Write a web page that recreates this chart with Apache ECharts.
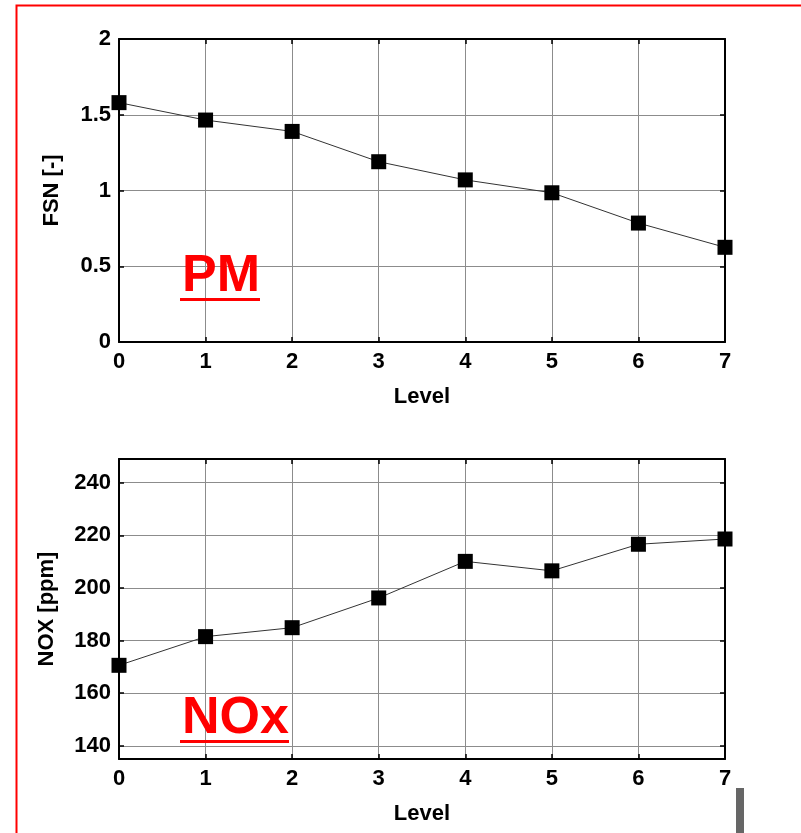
<!DOCTYPE html>
<html>
<head>
<meta charset="utf-8">
<script src="https://cdn.jsdelivr.net/npm/echarts@6/dist/echarts.min.js"></script>
<style>
  html, body { margin: 0; padding: 0; background: #fff; }
  #chart { width: 801px; height: 833px; }
</style>
</head>
<body>
<div id="chart"></div>
<script>
  // data
  const levels = [0, 1, 2, 3, 4, 5, 6, 7]
  const fsn = [1.58, 1.465, 1.39, 1.19, 1.07, 0.985, 0.785, 0.625]
  const nox = [170.6, 181.5, 184.9, 196.2, 210.1, 206.5, 216.6, 218.6]
  const fsnTicks = [0, 0.5, 1, 1.5, 2]
  const noxTicks = [140, 160, 180, 200, 220, 240]

  const font = 'Liberation Sans, Arial, sans-serif'
  const chart = echarts.init(document.getElementById('chart'))

  const lbl = { color: '#000', fontSize: 22, fontWeight: 'bold', fontFamily: font }
  const gridLine = { show: true, lineStyle: { color: '#8c8c8c', width: 1 } }
  const axisLine = { show: true, onZero: false, lineStyle: { color: '#000', width: 2 } }
  const tick = { show: true, inside: true, length: 5, lineStyle: { color: '#000', width: 1.5 } }

  // bottom/left axes with labels, top/right axes only for frame + ticks
  const xAx = (grid, name) => ([
    {
      gridIndex: grid, type: 'value', min: 0, max: 7, interval: 1, position: 'bottom',
      name: name, nameLocation: 'middle', nameGap: 44, nameTextStyle: lbl,
      axisLine: axisLine, axisTick: tick, splitLine: gridLine,
      axisLabel: Object.assign({ margin: 9 }, lbl)
    },
    {
      gridIndex: grid, type: 'value', min: 0, max: 7, interval: 1, position: 'top',
      axisLine: axisLine, axisTick: tick, splitLine: { show: false }, axisLabel: { show: false }
    }
  ])
  const yAx = (grid, name, min, max, ticks, interval, gap) => ([
    {
      gridIndex: grid, type: 'value', min: min, max: max, interval: interval, position: 'left',
      name: name, nameLocation: 'middle', nameGap: gap, nameRotate: 90, nameTextStyle: lbl,
      axisLine: axisLine, splitLine: gridLine,
      axisLabel: Object.assign({ margin: 8, customValues: ticks }, lbl),
      axisTick: Object.assign({ customValues: ticks }, tick)
    },
    {
      gridIndex: grid, type: 'value', min: min, max: max, interval: interval, position: 'right',
      axisLine: axisLine, axisTick: Object.assign({ customValues: ticks }, tick),
      splitLine: { show: false }, axisLabel: { show: false }
    }
  ])

  const xs = xAx(0, 'Level').concat(xAx(1, 'Level'))
  const ys = yAx(0, 'FSN [-]', 0, 2, fsnTicks, 0.5, 56).concat(yAx(1, 'NOX [ppm]', 135, 249, noxTicks, 20, 61))

  const mkSeries = (idx, vals) => ({
    type: 'line',
    xAxisIndex: idx * 2, yAxisIndex: idx * 2,
    data: levels.map((l, i) => [l, vals[i]]),
    symbol: 'rect', symbolSize: 15,
    itemStyle: { color: '#000' },
    lineStyle: { color: '#333', width: 1 },
    animation: false
  })

  const redText = (txt, x, y, w) => ([
    {
      type: 'text', left: x, top: y, z: 10,
      style: { text: txt, fill: '#ff0000', font: 'bold 52px ' + font }
    },
    {
      type: 'rect', left: x - 2, top: y + 47, z: 10,
      shape: { width: w, height: 3 }, style: { fill: '#ff0000' }
    }
  ])

  const option = {
    animation: false,
    grid: [
      { left: 119, top: 39, width: 606, height: 303 },
      { left: 119, top: 459, width: 606, height: 300 }
    ],
    xAxis: xs,
    yAxis: ys,
    series: [mkSeries(0, fsn), mkSeries(1, nox)],
    graphic: [
      {
        type: 'rect', left: 14, top: 3, z: 10,
        shape: { width: 800, height: 840 },
        style: { fill: 'none', stroke: '#ff0000', lineWidth: 2 }
      },
      {
        type: 'rect', left: 736, top: 788, z: 10,
        shape: { width: 8, height: 50 }, style: { fill: '#666' }
      }
    ].concat(redText('PM', 182, 251, 80)).concat(redText('NOx', 182, 693, 109))
  }
  chart.setOption(option)
</script>
</body>
</html>
